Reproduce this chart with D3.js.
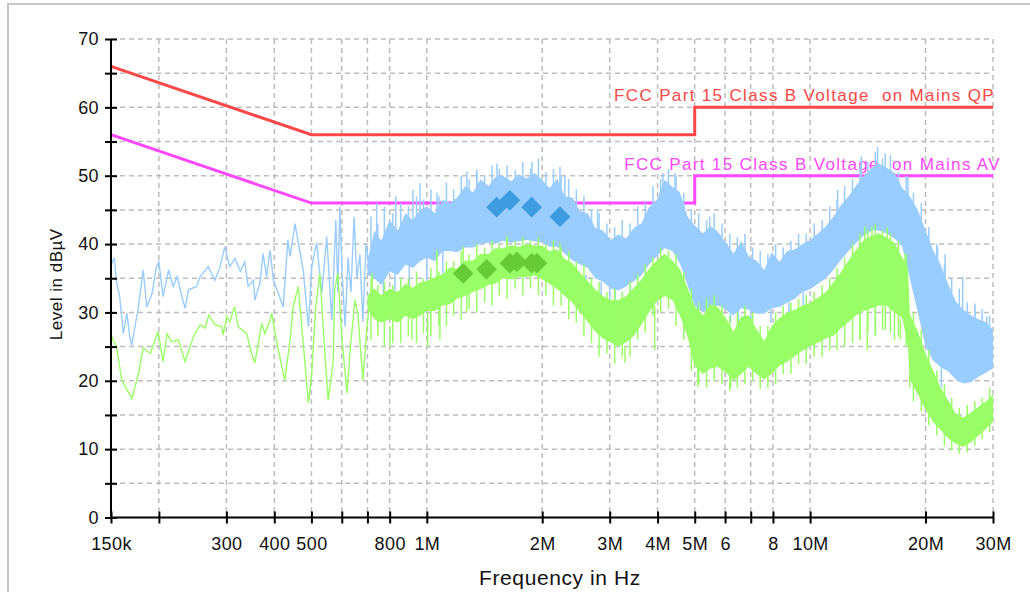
<!DOCTYPE html>
<html>
<head>
<meta charset="utf-8">
<script src="https://cdn.jsdelivr.net/npm/d3@7/dist/d3.min.js"></script>
<style>
  body { margin: 0; background: #fff; }
  svg { display: block; font-family: "Liberation Sans", Arial, sans-serif; }
</style>
</head>
<body>
<svg id="chart" width="1030" height="592"></svg>
<script>
// ---- data (frequency in Hz, level in dBµV) ----
const xTicks = [150e3, 200e3, 300e3, 400e3, 500e3, 600e3, 700e3, 800e3, 1e6, 2e6, 3e6, 4e6, 5e6, 6e6, 7e6, 8e6, 10e6, 20e6, 30e6];
const xTickLabels = ['150k', '', '300', '400', '500', '', '', '800', '1M', '2M', '3M', '4M', '5M', '6', '', '8', '10M', '20M', '30M'];
const yTicks = [0, 5, 10, 15, 20, 25, 30, 35, 40, 45, 50, 55, 60, 65, 70];

const qpLimit = [[150e3, 66], [500e3, 56], [5e6, 56], [5e6, 60], [30e6, 60]];
const avLimit = [[150e3, 56], [500e3, 46], [5e6, 46], [5e6, 50], [30e6, 50]];
const qpLabel = 'FCC Part 15 Class B Voltage  on Mains QP';
const avLabel = 'FCC Part 15 Class B Voltage  on Mains AV';

// peak trace, low band: single line
const peakLine = [
  [150e3, 37.6], [151e3, 37.2], [153e3, 38.0], [155e3, 34.5], [158e3, 32.3], [161.5e3, 26.9], [165e3, 29.9],
  [168e3, 26.4], [170e3, 25.2], [175e3, 29.4], [176e3, 29.9], [182e3, 36.2], [186e3, 30.8], [192e3, 32.8],
  [197e3, 36.7], [200e3, 37.4], [205e3, 32.3], [212e3, 36.2], [218e3, 33.8], [223e3, 35.2], [234e3, 30.6],
  [239e3, 33.3], [251e3, 33.8], [256e3, 35.2], [269e3, 36.7], [280e3, 34.7], [289e3, 36.7], [297e3, 39.6],
  [306e3, 36.7], [316e3, 37.9], [326e3, 36.0], [335e3, 37.4], [342e3, 33.8], [353e3, 34.7], [356e3, 31.8],
  [367e3, 34.3], [374e3, 38.6], [382e3, 35.2], [390e3, 39.1], [398e3, 34.7], [410e3, 32.8], [422e3, 30.8],
  [434e3, 40.6], [440e3, 38.2], [453e3, 43.0], [462e3, 40.2], [476e3, 36.2], [491e3, 27.9], [501e3, 36.7],
  [516e3, 40.2], [532e3, 32.8], [548e3, 41.1], [565e3, 28.9], [579e3, 43.5], [586e3, 33.0], [593e3, 45.5],
  [601e3, 36.0], [612e3, 27.9], [623e3, 38.0], [634e3, 33.0], [646e3, 44.0], [657e3, 35.0], [669e3, 38.5],
  [681e3, 28.6], [694e3, 40.0], [711e3, 36.0]
];

// average trace, low band: single line
const avgLine = [
  [150e3, 26.7], [155e3, 25.0], [160e3, 20.1], [170e3, 17.4], [177e3, 21.1], [182e3, 24.8], [190e3, 24.0],
  [199e3, 27.2], [205e3, 22.8], [210e3, 26.9], [216e3, 25.7], [225e3, 26.0], [234e3, 22.8], [246e3, 26.4],
  [256e3, 28.2], [264e3, 27.7], [270e3, 29.6], [280e3, 28.2], [292e3, 27.9], [294e3, 26.7], [301e3, 29.4],
  [306e3, 28.6], [315e3, 30.8], [322e3, 27.9], [339e3, 26.9], [349e3, 24.0], [356e3, 22.6], [371e3, 28.4],
  [378e3, 26.9], [390e3, 28.9], [394e3, 29.9], [402e3, 26.9], [410e3, 24.5], [426e3, 20.1], [440e3, 26.0],
  [448e3, 30.8], [462e3, 33.8], [476e3, 25.5], [491e3, 16.7], [501e3, 21.1], [513e3, 30.8], [526e3, 35.7],
  [542e3, 24.0], [553e3, 17.2], [570e3, 23.0], [575e3, 33.3], [586e3, 35.7], [601e3, 26.0], [619e3, 18.2],
  [630e3, 24.0], [649e3, 31.8], [661e3, 29.9], [681e3, 20.1], [698e3, 27.9], [711e3, 32.0]
];

// dense part: [freq, low, high] of the filled band
const peakBand = [
  [0.70e6, 35.5, 37.5], [0.73e6, 35, 42], [0.76e6, 34, 40.5], [0.80e6, 36, 43.5], [0.84e6, 35.5, 42],
  [0.88e6, 37, 44.5], [0.92e6, 36.5, 43.5], [0.96e6, 37.5, 45], [1.00e6, 38, 45.5], [1.05e6, 37.5, 44.5],
  [1.10e6, 39, 46.5], [1.15e6, 39, 46], [1.20e6, 38.8, 46.8], [1.26e6, 39.5, 48.5], [1.32e6, 39.5, 47.5],
  [1.38e6, 40, 49.5], [1.45e6, 40.2, 48.5], [1.51e6, 40, 49.8], [1.58e6, 40.5, 50], [1.66e6, 40.2, 49.2],
  [1.74e6, 40.4, 50.2], [1.82e6, 40.6, 49.6], [1.91e6, 40.4, 50.4], [2.00e6, 40.2, 49.4], [2.09e6, 39.6, 48.2],
  [2.19e6, 39.6, 49.6], [2.29e6, 38.6, 47], [2.40e6, 37.6, 46.8], [2.51e6, 37, 44.8], [2.63e6, 36.5, 44.5],
  [2.75e6, 35, 42.4], [2.88e6, 34.5, 42], [3.02e6, 33.5, 40.6], [3.16e6, 33.2, 41.4], [3.31e6, 33.8, 40.8],
  [3.47e6, 34.6, 42.4], [3.63e6, 35.4, 43], [3.80e6, 37, 45.4], [3.98e6, 38.2, 46.4], [4.17e6, 39.4, 49.4],
  [4.37e6, 39, 48.4], [4.57e6, 37.2, 47.6], [4.79e6, 34, 44], [4.99e6, 31, 42.8], [5.25e6, 30, 41.6],
  [5.50e6, 30.6, 42.6], [5.75e6, 31, 41.8], [6.03e6, 30.4, 40.2], [6.31e6, 29.6, 38.6], [6.61e6, 30.6, 40.4],
  [6.92e6, 30.4, 38.2], [7.24e6, 29.8, 37.6], [7.59e6, 29.8, 36.2], [7.94e6, 30.6, 38.8], [8.32e6, 30.8, 37.4],
  [8.71e6, 31.4, 39], [9.12e6, 32, 39.2], [9.55e6, 33, 40], [10.0e6, 33.4, 40.6], [10.5e6, 34.2, 41.6],
  [11.0e6, 35, 42.6], [11.5e6, 36.2, 44], [12.0e6, 37.6, 45.6], [12.6e6, 39, 47], [13.2e6, 40.2, 48.6],
  [13.8e6, 41.2, 50], [14.5e6, 42, 51.2], [15.1e6, 42, 51.8], [15.8e6, 41.6, 51.2], [16.6e6, 40.8, 50.4],
  [17.4e6, 39.6, 48.2], [18.2e6, 35, 47], [19.1e6, 30, 45], [20.0e6, 25, 42], [20.9e6, 23, 39.2],
  [21.9e6, 22, 37], [22.9e6, 21.4, 34.2], [24.0e6, 20.2, 31.6], [25.1e6, 19.6, 30.4], [26.3e6, 19.8, 29.6],
  [27.5e6, 20.6, 29], [28.8e6, 21.2, 28.6], [30.0e6, 21.8, 27.4]
];

const avgBand = [
  [0.70e6, 30.5, 32.5], [0.73e6, 29, 33.5], [0.76e6, 28.5, 32.5], [0.80e6, 29, 33.5], [0.84e6, 28.5, 33],
  [0.88e6, 29.5, 34.2], [0.92e6, 29, 33.6], [0.96e6, 29.5, 34.4], [1.00e6, 30.2, 34.6], [1.05e6, 30.2, 35.2],
  [1.10e6, 31, 35.6], [1.15e6, 31.2, 36.6], [1.20e6, 32, 36.4], [1.26e6, 32.4, 37.6], [1.32e6, 33, 37.6],
  [1.38e6, 33.4, 38.6], [1.45e6, 34, 38.6], [1.51e6, 34.2, 39.4], [1.58e6, 35, 39.4], [1.66e6, 34.8, 39.8],
  [1.74e6, 35.2, 39.6], [1.82e6, 35.2, 40], [1.91e6, 35.4, 39.8], [2.00e6, 34.8, 39.8], [2.09e6, 34.2, 39],
  [2.19e6, 33.4, 39.2], [2.29e6, 32.4, 37.8], [2.40e6, 31.4, 37.2], [2.51e6, 30, 35.8], [2.63e6, 28.6, 34.6],
  [2.75e6, 27.2, 33.4], [2.88e6, 26.2, 32.4], [3.02e6, 25.6, 31.8], [3.16e6, 25, 31.8], [3.31e6, 25.6, 32.4],
  [3.47e6, 26.6, 33.6], [3.63e6, 28.2, 34.8], [3.80e6, 30, 36.4], [3.98e6, 31.6, 37.6], [4.17e6, 32.4, 38.6],
  [4.37e6, 31.8, 37.6], [4.57e6, 29.6, 36.4], [4.79e6, 26.4, 33.6], [4.99e6, 22.2, 31], [5.25e6, 21, 29.6],
  [5.50e6, 21.8, 31.2], [5.75e6, 22, 30.8], [6.03e6, 21.2, 29.2], [6.31e6, 20, 27.2], [6.61e6, 21, 29.4],
  [6.92e6, 22, 29.6], [7.24e6, 21, 27.6], [7.59e6, 20.2, 25.8], [7.94e6, 21, 28], [8.32e6, 22.2, 29.2],
  [8.71e6, 22.8, 30], [9.12e6, 23.6, 30.4], [9.55e6, 24.4, 31], [10.0e6, 25, 31.4], [10.5e6, 25.6, 32.2],
  [11.0e6, 26.2, 33], [11.5e6, 26.6, 34.4], [12.0e6, 27.6, 35.8], [12.6e6, 28.6, 37.6], [13.2e6, 29.6, 39.2],
  [13.8e6, 30.2, 40.6], [14.5e6, 30.6, 41.2], [15.1e6, 31, 41.6], [15.8e6, 31, 41], [16.6e6, 30, 40.2],
  [17.4e6, 29.2, 38], [18.0e6, 25, 36.6], [18.2e6, 20.2, 29.8], [19.1e6, 18, 27.2], [20.0e6, 15.8, 24],
  [20.9e6, 14, 21.6], [21.9e6, 12.8, 19], [22.9e6, 11.6, 17.2], [24.0e6, 10.8, 15.2], [25.1e6, 10.3, 14.6],
  [26.3e6, 11, 15.4], [27.5e6, 12, 16.2], [28.8e6, 13, 17], [30.0e6, 14, 18]
];

// short noise tips along the band edges, read at these frequencies
const tipFreqs = [
  0.715e6, 0.745e6, 0.775e6, 0.815e6, 0.855e6, 0.895e6, 0.94e6, 0.98e6, 1.025e6, 1.075e6,
  1.125e6, 1.175e6, 1.23e6, 1.29e6, 1.35e6, 1.415e6, 1.48e6, 1.545e6, 1.62e6, 1.70e6,
  1.78e6, 1.865e6, 1.955e6, 2.045e6, 2.14e6, 2.24e6, 2.345e6, 2.455e6, 2.57e6, 2.69e6,
  2.815e6, 2.95e6, 3.09e6, 3.235e6, 3.39e6, 3.55e6, 3.715e6, 3.89e6, 4.075e6, 4.27e6,
  4.47e6, 4.68e6, 4.9e6, 5.12e6, 5.37e6, 5.62e6, 5.89e6, 6.17e6, 6.46e6, 6.76e6,
  7.08e6, 7.41e6, 7.76e6, 8.13e6, 8.51e6, 8.91e6, 9.33e6, 9.77e6, 10.25e6, 10.75e6,
  11.25e6, 11.75e6, 12.3e6, 12.9e6, 13.5e6, 14.15e6, 14.8e6, 15.45e6, 16.2e6, 17.0e6,
  17.8e6, 18.6e6, 19.5e6, 20.4e6, 21.4e6, 22.4e6, 23.4e6, 24.5e6, 25.7e6, 26.9e6,
  28.1e6, 29.4e6
];
const peakTipUp = [
  44, 43, 45.5, 44.5, 46, 45.5, 47, 46.5, 48, 47,
  49, 48, 50, 49.5, 50.5, 50, 51.5, 51, 51.5, 50.8,
  52, 51, 52.5, 50.5, 51, 50, 49.5, 48, 47, 45,
  44.5, 43, 42.5, 43.5, 43, 45.5, 46, 48.5, 49.5, 51,
  50, 47.5, 45, 44.5, 43.5, 44.5, 43, 41.5, 41, 41.5,
  39.5, 39, 38.5, 40, 39.5, 40.5, 41.5, 41.5, 43, 43.5,
  45.5, 46.5, 48.5, 49.5, 51.5, 52, 53.5, 52.5, 53, 50.5,
  50, 47.5, 46, 42.5, 40, 37, 35, 33.5, 31.5, 31,
  30.5, 29.5
];
const avgTipUp = [
  35, 34, 34.5, 34, 35, 35, 36, 35, 36.5, 36,
  37.5, 37.5, 39, 38.5, 40, 39.5, 40.5, 40, 41, 40.5,
  41, 40.5, 41, 40, 40.5, 39.5, 39, 37.5, 37, 35,
  34.5, 33, 33.5, 33, 34.5, 35.5, 37, 38, 39.5, 39,
  38.5, 36, 33.5, 31.5, 32, 32.5, 31, 29.5, 30, 31,
  30, 28, 28, 30, 31, 31.5, 32, 32.5, 33, 34,
  35, 36.5, 38, 40, 41.5, 42, 43, 42, 41.5, 40.5,
  38.5, 30, 27.5, 24.5, 21.5, 19.5, 17.5, 16, 16.5, 17,
  17.5, 19
];
const avgTipDown = [
  26, 26.5, 25, 25.5, 25.5, 26.5, 25.5, 27, 26.5, 28,
  28, 29.5, 29, 30.5, 30, 31.5, 31, 32.5, 32, 33.5,
  32.5, 33.5, 32.5, 32.5, 31, 31, 29, 28.5, 26.5, 25.5,
  23.5, 24, 22.5, 23.5, 23.5, 26, 27, 29.5, 30, 30.5,
  28, 26, 21.5, 19.5, 19, 20, 19.5, 18.5, 19, 19.5,
  20, 18.8, 19, 19.5, 21, 21, 22.5, 22.5, 23.5, 23.5,
  24.5, 24.5, 25, 25.5, 26, 27, 26.5, 27.5, 27, 26.5,
  25, 17, 15.5, 13.5, 12, 10.5, 9.8, 9.3, 9.5, 10.5,
  11.5, 12.5
];

// longer single spikes: [freq, from, to]
const peakSpikes = [
  [0.74e6, 38, 46], [0.77e6, 32, 36], [0.826e6, 30.8, 38], [0.83e6, 41, 47], [0.9e6, 33, 37],
  [0.92e6, 42, 47.9], [0.96e6, 43, 48.9], [1.0e6, 33.3, 40], [1.063e6, 44, 47.5], [1.101e6, 35.7, 41],
  [1.272e6, 46, 50.6], [1.351e6, 47, 50.9], [1.524e6, 48, 51.8], [1.881e6, 48, 52.0], [2.225e6, 47, 51.3],
  [2.29e6, 45, 50], [2.6e6, 33, 35.5], [2.79e6, 41, 45], [2.85e6, 32, 34.5], [3.0e6, 31, 34],
  [3.1e6, 31.5, 34], [3.4e6, 32, 34], [4.13e6, 47, 50.4], [4.44e6, 46, 50.4], [5.09e6, 28, 31],
  [5.47e6, 40, 44], [6.2e6, 28.5, 30.5], [6.5e6, 28.5, 31], [7.0e6, 28.2, 30.5], [7.9e6, 28.5, 30.5],
  [8.8e6, 29.5, 31.5], [9.6e6, 31, 33], [11.8e6, 44, 47.9], [13.6e6, 49, 52.8], [15.0e6, 50, 54.2],
  [15.7e6, 50, 53.3], [18.0e6, 45, 49.9], [21.5e6, 35, 39.6], [22.0e6, 19, 22], [22.5e6, 32, 38.5],
  [25.0e6, 28, 35.2], [26.9e6, 27, 31.3], [28.9e6, 26, 29.4]
];

const avgSpikes = [
  [0.72e6, 32, 35.7], [0.801e6, 25, 28], [0.914e6, 26, 29], [1.005e6, 25, 30], [1.063e6, 33, 39.1],
  [1.082e6, 26, 31], [1.244e6, 36, 39.6], [1.272e6, 30, 33.5], [1.618e6, 38, 41.1], [2.225e6, 37, 40.1],
  [3.29e6, 22.6, 25], [3.93e6, 24.5, 31], [5.09e6, 19.1, 22], [6.21e6, 19, 21.5], [13.5e6, 26, 30],
  [13.9e6, 38, 42.5], [14.1e6, 24.5, 31], [14.5e6, 39, 42.5], [14.8e6, 27, 31], [15.7e6, 27.4, 31],
  [15.9e6, 39, 42.5], [16.6e6, 26, 30], [17.2e6, 26, 29], [17.7e6, 35, 38.6], [18.2e6, 19, 26]
];

// final measurements
const qpMarks = [[1.521e6, 45.4], [1.647e6, 46.4], [1.877e6, 45.4], [2.225e6, 44.0]];
const avMarks = [[1.244e6, 35.7], [1.432e6, 36.3], [1.647e6, 37.2], [1.718e6, 37.4], [1.877e6, 37.2], [1.937e6, 37.2]];

// ---- chart ----
const svg = d3.select('#chart');
const x = d3.scaleLog().domain([150e3, 30e6]).range([111, 993]);
const y = d3.scaleLinear().domain([0, 70]).range([517.5, 39]);

const colors = {
  peak: '#99ccff', avg: '#99ff66',
  peakMark: '#3d9be0', avgMark: '#66cc33',
  qp: '#ff4747', av: '#ff47ff', grid: '#bdbdbd'
};

// outer frame
svg.append('rect')
  .attr('x', 8).attr('y', 4)
  .attr('width', 1040).attr('height', 600)
  .attr('fill', 'none')
  .attr('stroke', '#c6c6c6')
  .attr('stroke-width', 2);

// grid
const grid = svg.append('g')
  .attr('stroke', colors.grid)
  .attr('stroke-width', 1.5)
  .attr('stroke-dasharray', '5,4');
grid.selectAll('line.h')
  .data(yTicks.filter(v => v > 0))
  .join('line')
  .attr('x1', x.range()[0]).attr('x2', x.range()[1])
  .attr('y1', d => y(d)).attr('y2', d => y(d));
grid.selectAll('line.v')
  .data(xTicks.slice(1))
  .join('line')
  .attr('x1', d => x(d)).attr('x2', d => x(d))
  .attr('y1', y.range()[1]).attr('y2', y.range()[0]);

// limit lines + labels
const line = d3.line().x(d => x(d[0])).y(d => y(d[1]));
[[qpLimit, colors.qp, qpLabel, 2], [avLimit, colors.av, avLabel, 8]].forEach(([data, c, label, dx]) => {
  svg.append('path')
    .datum(data)
    .attr('d', line)
    .attr('fill', 'none')
    .attr('stroke', c)
    .attr('stroke-width', 3);
  svg.append('text')
    .attr('x', x(30e6) + dx)
    .attr('y', y(data[data.length - 1][1]) - 6)
    .attr('text-anchor', 'end')
    .attr('fill', c)
    .attr('font-size', 17)
    .attr('letter-spacing', 1.35)
    .style('white-space', 'pre')
    .text(label);
});

// traces
const area = d3.area().x(d => x(d[0])).y0(d => y(d[1])).y1(d => y(d[2]));
const bisect = d3.bisector(d => d[0]).left;

function drawTrace(lineData, band, tipSets, spikes, color) {
  const g = svg.append('g');
  g.append('path')
    .datum(lineData)
    .attr('d', line)
    .attr('fill', 'none')
    .attr('stroke', color)
    .attr('stroke-width', 1.4);
  g.append('path')
    .datum(band)
    .attr('d', area)
    .attr('fill', color);

  // each tip is joined to the middle of the nearest band sample
  const tips = [];
  tipSets.forEach(levels => levels.forEach((v, i) => {
    const b = band[Math.min(bisect(band, tipFreqs[i]), band.length - 1)];
    tips.push([tipFreqs[i], (b[1] + b[2]) / 2, v]);
  }));

  g.selectAll('line')
    .data(tips.concat(spikes))
    .join('line')
    .attr('x1', d => x(d[0])).attr('x2', d => x(d[0]))
    .attr('y1', d => y(d[1])).attr('y2', d => y(d[2]))
    .attr('stroke', color)
    .attr('stroke-width', 1.5);
}
drawTrace(peakLine, peakBand, [peakTipUp], peakSpikes, colors.peak);
drawTrace(avgLine, avgBand, [avgTipUp, avgTipDown], avgSpikes, colors.avg);

// markers (diamonds)
const diamond = d3.symbol(d3.symbolSquare, 215);
[[qpMarks, colors.peakMark], [avMarks, colors.avgMark]].forEach(([data, c]) => {
  svg.append('g')
    .selectAll('path')
    .data(data)
    .join('path')
    .attr('d', diamond)
    .attr('transform', d => `translate(${x(d[0])},${y(d[1])}) rotate(45)`)
    .attr('fill', c);
});

// axes
const yAxis = svg.append('g')
  .attr('transform', `translate(${x.range()[0]},0)`)
  .call(d3.axisLeft(y)
    .tickValues(yTicks)
    .tickSize(6)
    .tickPadding(6)
    .tickFormat(d => d % 10 === 0 ? d : ''));
const xAxis = svg.append('g')
  .attr('transform', `translate(0,${y.range()[0]})`)
  .call(d3.axisBottom(x)
    .tickValues(xTicks)
    .tickSize(6)
    .tickPadding(14)
    .tickFormat((d, i) => xTickLabels[i]));

yAxis.selectAll('.tick line').attr('x1', 6);
xAxis.selectAll('.tick line').attr('y1', -6);
[yAxis, xAxis].forEach(a => {
  a.select('.domain').remove();
  a.selectAll('.tick line').attr('stroke', '#000').attr('stroke-width', 2);
  a.selectAll('.tick text')
    .attr('fill', '#111')
    .attr('font-size', 18)
    .attr('letter-spacing', 0.4)
    .attr('font-family', '"Liberation Sans", Arial, sans-serif');
});
svg.append('line')
  .attr('x1', x.range()[0]).attr('x2', x.range()[0])
  .attr('y1', y.range()[1]).attr('y2', y.range()[0])
  .attr('stroke', '#000').attr('stroke-width', 2);
svg.append('line')
  .attr('x1', x.range()[0]).attr('x2', x.range()[1])
  .attr('y1', y.range()[0]).attr('y2', y.range()[0])
  .attr('stroke', '#000').attr('stroke-width', 2);

// axis titles
svg.append('text')
  .attr('x', (x.range()[0] + x.range()[1]) / 2 + 8)
  .attr('y', 585)
  .attr('text-anchor', 'middle')
  .attr('font-size', 21)
  .attr('letter-spacing', 0.6)
  .attr('fill', '#111')
  .text('Frequency in Hz');
svg.append('text')
  .attr('transform', `translate(62,${(y.range()[0] + y.range()[1]) / 2 + 6}) rotate(-90)`)
  .attr('text-anchor', 'middle')
  .attr('font-size', 17)
  .attr('letter-spacing', 0.5)
  .attr('fill', '#111')
  .text('Level in dBµV');
</script>
</body>
</html>
